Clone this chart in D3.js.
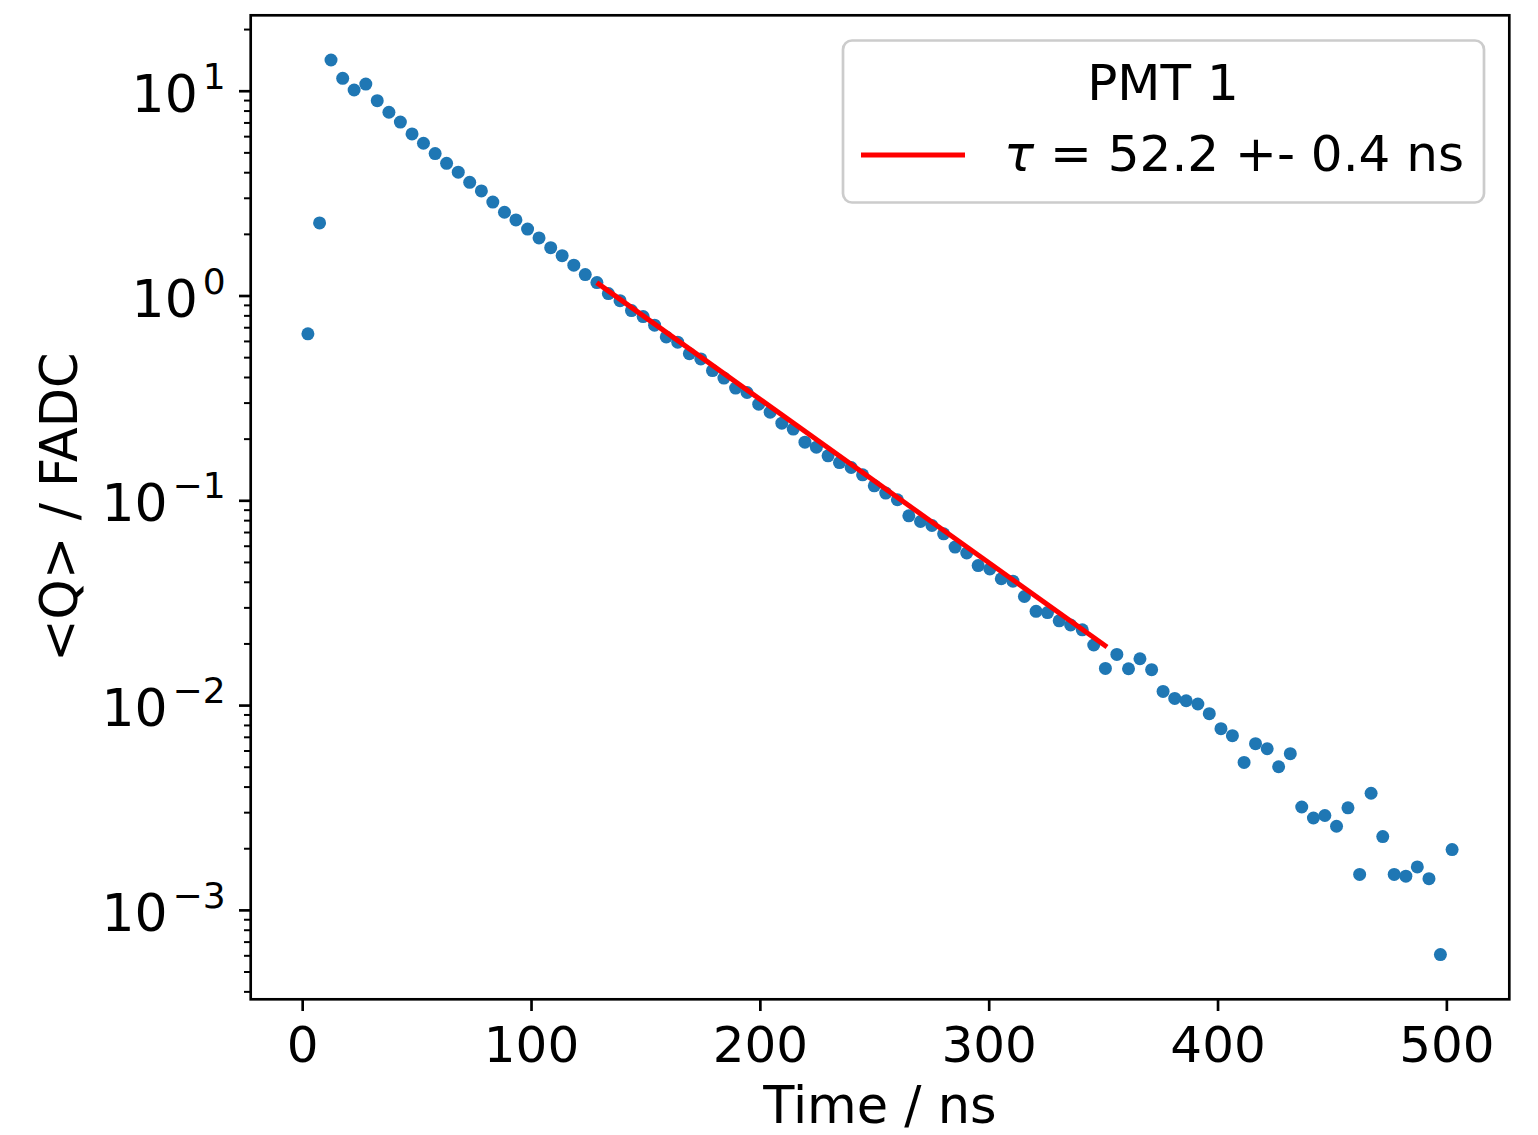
<!DOCTYPE html>
<html>
    <head>
        <meta charset="utf-8" />
        <title>PMT 1 decay time</title>
        <style>
            body {
              margin: 0;
              background: #fff;
            }
            text {
              font-family: "DejaVu Sans", sans-serif;
              fill: #000;
            }
        </style>
    </head>

    <body>
        <svg width="1538" height="1135" id="chart"></svg>
        <script src="https://d3js.org/d3.v7.min.js"></script>
        <script>

        //------------------------------------------------Data------------------------------------------------------------------//

        // time of each bin (ns)
        var times = [
          2.5, 7.6, 12.6, 17.7, 22.7, 27.8, 32.8, 37.9, 42.9, 48.0,
          53.0, 58.1, 63.1, 68.2, 73.2, 78.3, 83.3, 88.4, 93.4, 98.5,
          103.5, 108.6, 113.6, 118.7, 123.7, 128.8, 133.8, 138.9, 143.9, 149.0,
          154.0, 159.1, 164.1, 169.2, 174.2, 179.3, 184.3, 189.4, 194.4, 199.5,
          204.5, 209.6, 214.6, 219.7, 224.7, 229.8, 234.8, 239.9, 244.9, 250.0,
          255.0, 260.1, 265.1, 270.2, 275.2, 280.3, 285.3, 290.4, 295.4, 300.5,
          305.5, 310.6, 315.6, 320.7, 325.7, 330.8, 335.8, 340.9, 345.9, 351.0,
          356.0, 361.1, 366.1, 371.2, 376.2, 381.3, 386.3, 391.4, 396.4, 401.5,
          406.5, 411.6, 416.6, 421.7, 426.7, 431.8, 436.8, 441.9, 446.9, 452.0,
          457.0, 462.1, 467.1, 472.2, 477.2, 482.3, 487.3, 492.4, 497.4, 502.5
        ];

        // mean charge <Q> per bin (FADC)
        var charge = [
          0.650, 2.262, 14.12, 11.5, 10.08, 10.78, 8.94, 7.85, 7.03, 6.15,
          5.54, 4.93, 4.42, 4.00, 3.57, 3.24, 2.86, 2.55, 2.34, 2.11,
          1.91, 1.713, 1.565, 1.406, 1.265, 1.156, 1.022, 0.944, 0.844, 0.789,
          0.716, 0.628, 0.592, 0.520, 0.490, 0.430, 0.395, 0.353, 0.336, 0.2947,
          0.2694, 0.238, 0.2226, 0.1923, 0.1818, 0.1649, 0.1529, 0.1446, 0.1331, 0.1177,
          0.1084, 0.1006, 0.0840, 0.0788, 0.0753, 0.0686, 0.0591, 0.0553, 0.0480, 0.0462,
          0.0414, 0.0403, 0.0339, 0.0287, 0.0283, 0.0258, 0.0246, 0.0233, 0.01965, 0.0151,
          0.01768, 0.01505, 0.01684, 0.01489, 0.01166, 0.01078, 0.0105, 0.01012, 0.00908, 0.00767,
          0.00709, 0.00525, 0.00648, 0.00612, 0.0050, 0.00579, 0.00318, 0.00281, 0.00289, 0.00256,
          0.00315, 0.00149, 0.00371, 0.00228, 0.00149, 0.00146, 0.00162, 0.00142, 0.000605, 0.00197
        ];

        // exponential fit, start and end of the fitted range
        var fitTime = [128.7, 351.7];
        var fitCharge = [1.156, 0.0192];

        var xTicks = [0, 100, 200, 300, 400, 500];
        var yTickExps = [-3, -2, -1, 0, 1];

        var legendTitle = "PMT 1";
        var fitLabel = " = 52.2 +- 0.4 ns";

        //------------------------------------------------D3js Code------------------------------------------------------------------//

        var svg = d3.select("#chart");

        var plot = {left: 250.7, right: 1509.3, top: 15.3, bottom: 999.3};
        var fontSize = 50;

        // matplotlib style 5% margins
        var xExt = d3.extent(times);
        var xPad = (xExt[1] - xExt[0]) * 0.05;
        var x = d3.scaleLinear()
          .domain([xExt[0] - xPad, xExt[1] + xPad])
          .range([plot.left, plot.right]);

        var yExt = d3.extent(charge).map(Math.log10);
        var yPad = (yExt[1] - yExt[0]) * 0.05;
        var y = d3.scaleLog()
          .domain([Math.pow(10, yExt[0] - yPad), Math.pow(10, yExt[1] + yPad)])
          .range([plot.bottom, plot.top]);

        // minor ticks 2..9 per decade inside the domain
        var minorTicks = [];
        yTickExps.concat([-4]).forEach(function(e) {
          for (var m = 2; m < 10; m++) {
            var v = m * Math.pow(10, e);
            if (v >= y.domain()[0] && v <= y.domain()[1]) minorTicks.push(v);
          }
        });

        // x axis
        var xAxis = svg.append("g")
          .attr("transform", "translate(0," + plot.bottom + ")")
          .call(d3.axisBottom(x).tickValues(xTicks).tickSize(11.7).tickSizeOuter(0).tickPadding(11.7).tickFormat(d3.format("d")));
        xAxis.select(".domain").remove();
        xAxis.selectAll(".tick line").attr("stroke", "#000").attr("stroke-width", 2.67);
        xAxis.selectAll(".tick text")
          .attr("font-size", fontSize)
          .attr("font-family", "DejaVu Sans")
          .attr("fill", "#000")
          .attr("dy", null)
          .attr("y", 62.5);

        // y axis, major and minor ticks
        var yAxis = svg.append("g")
          .attr("transform", "translate(" + plot.left + ",0)")
          .call(d3.axisLeft(y).tickValues(yTickExps.map(function(e) { return Math.pow(10, e); }))
            .tickSize(11.7).tickSizeOuter(0).tickFormat(""));
        yAxis.select(".domain").remove();
        yAxis.selectAll(".tick line").attr("stroke", "#000").attr("stroke-width", 2.67);

        var yMinor = svg.append("g")
          .attr("transform", "translate(" + plot.left + ",0)")
          .call(d3.axisLeft(y).tickValues(minorTicks).tickSize(6.7).tickSizeOuter(0).tickFormat(""));
        yMinor.select(".domain").remove();
        yMinor.selectAll(".tick line").attr("stroke", "#000").attr("stroke-width", 2);

        // y tick labels as 10^n
        var yLabels = svg.append("g").selectAll("text").data(yTickExps).enter()
          .append("text")
          .attr("x", plot.left - 25)
          .attr("y", function(d) { return y(Math.pow(10, d)) + 21; })
          .attr("text-anchor", "end")
          .attr("font-size", 52);
        yLabels.append("tspan").text("10");
        yLabels.append("tspan")
          .attr("font-size", 36)
          .attr("dx", 5)
          .attr("dy", -23)
          .text(function(d) { return d < 0 ? "\u2212" + (-d) : "" + d; });

        // data points
        svg.append("g").selectAll("circle").data(times).enter()
          .append("circle")
          .attr("cx", function(d) { return x(d); })
          .attr("cy", function(d, i) { return y(charge[i]); })
          .attr("r", 6.5)
          .attr("fill", "#1f77b4");

        // fit line
        var line = d3.line()
          .x(function(d) { return x(d); })
          .y(function(d, i) { return y(fitCharge[i]); });
        svg.append("path")
          .attr("d", line(fitTime))
          .attr("fill", "none")
          .attr("stroke", "#ff0000")
          .attr("stroke-width", 5);

        // frame
        svg.append("rect")
          .attr("x", plot.left).attr("y", plot.top)
          .attr("width", plot.right - plot.left).attr("height", plot.bottom - plot.top)
          .attr("fill", "none")
          .attr("stroke", "#000")
          .attr("stroke-width", 2.67);

        // axis labels
        svg.append("text")
          .attr("x", (plot.left + plot.right) / 2)
          .attr("y", 1123)
          .attr("text-anchor", "middle")
          .attr("font-size", 51)
          .text("Time / ns");

        svg.append("text")
          .attr("transform", "translate(77," + ((plot.top + plot.bottom) / 2) + ") rotate(-90)")
          .attr("text-anchor", "middle")
          .attr("font-size", 51)
          .text("<Q> / FADC");

        // legend
        var lg = svg.append("g");
        lg.append("rect")
          .attr("x", 843).attr("y", 40.5)
          .attr("width", 641).attr("height", 162)
          .attr("rx", 9)
          .attr("fill", "#fff").attr("fill-opacity", 0.8)
          .attr("stroke", "#cccccc").attr("stroke-width", 2.7);
        lg.append("text")
          .attr("x", 1163).attr("y", 100)
          .attr("text-anchor", "middle")
          .attr("font-size", fontSize)
          .text(legendTitle);
        lg.append("line")
          .attr("x1", 861).attr("x2", 965)
          .attr("y1", 155).attr("y2", 155)
          .attr("stroke", "#ff0000")
          .attr("stroke-width", 5);
        var lt = lg.append("text")
          .attr("x", 1004).attr("y", 171)
          .attr("font-size", fontSize);
        lt.append("tspan").attr("font-style", "italic").text("\u03c4");
        lt.append("tspan").text(fitLabel);

        </script>
    </body>
</html>
